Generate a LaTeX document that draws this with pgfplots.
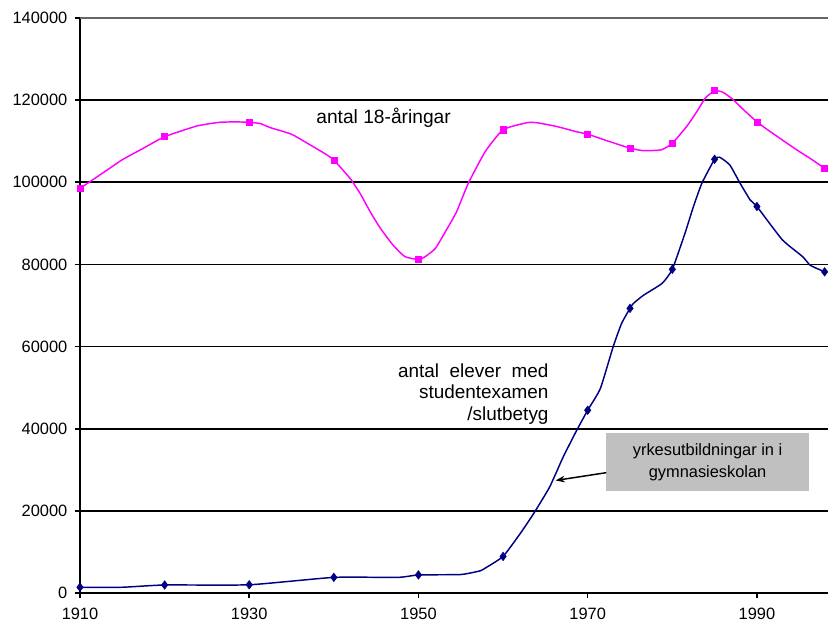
\documentclass[border=0pt]{standalone}
\usepackage{fontspec}
\setmainfont{Liberation Sans}
\usepackage{pgfplots}
\pgfplotsset{compat=1.18}
\usetikzlibrary{arrows.meta}
\definecolor{mag}{RGB}{255,0,255}
\definecolor{nav}{RGB}{0,0,128}
\definecolor{boxgray}{RGB}{192,192,192}
\begin{document}
\begin{tikzpicture}
\begin{axis}[
  scale only axis,
  width=561pt, height=431.25pt,
  xmin=1910, xmax=1998.4, ymin=0, ymax=140000,
  axis x line=bottom, axis y line=left,
  axis line style={line width=1.6pt,-},
  xtick={1910,1930,1950,1970,1990},
  ytick={0,20000,40000,60000,80000,100000,120000},
  extra y ticks={140000},
  extra y tick style={grid style={gray!80!black,line width=1.3pt}},
  ymajorgrids,
  grid style={black,line width=1.3pt},
  tick align=outside,
  major tick length=4pt,
  tick style={black,line width=1.2pt},
  scaled y ticks=false,
  /pgf/number format/.cd, fixed, 1000 sep={}, assume math mode=true,
  /pgfplots/.cd,
  tick label style={font=\fontsize{12.3}{14}\selectfont},
  yticklabel style={xshift=-2pt},
  xticklabel style={yshift=-4pt},
  clip=false,
]
% antal 18-aringar
\addplot[mag, line width=1.1pt, line join=round, smooth, tension=0.3] coordinates {
(1910,98500) (1913.5,103400) (1915,105500) (1917.5,108300) (1920,111100)
(1923.8,113700) (1926.5,114600) (1928.5,114700) (1930,114600) (1931.3,114300)
(1932.5,113300) (1935,111700) (1937.2,109100) (1939,106900) (1940,105400)
(1941.9,101000) (1943.1,97300) (1944.3,92800) (1945.5,88800) (1947,84700)
(1948.4,81900) (1950,81200) (1950.8,81900) (1952,83900) (1953.3,88400)
(1954.5,92800) (1955.9,99800) (1957.9,107500) (1960,112800) (1962.8,114500)
(1964,114500) (1966.3,113600) (1968.7,112300) (1970,111700) (1972.6,109900)
(1975,108300) (1976.6,107700) (1978.7,107900) (1980,109500) (1981.7,113600)
(1982.9,117200) (1983.9,120500) (1985,122300) (1986,121900) (1987.2,120100)
(1988.4,117700) (1990,114700) (1991.6,112300) (1994.7,107900) (1996.3,105800)
(1998,103400)
};
\addplot[only marks, mark=square*, mark size=2.3pt, mag] coordinates {
(1910,98500) (1920,111100) (1930,114600) (1940,105400) (1950,81200)
(1960,112800) (1970,111700) (1975,108300) (1980,109500) (1985,122300)
(1990,114700) (1998,103400)
};
% studentexamen
\addplot[nav, line width=1.1pt, line join=round, smooth, tension=0.3] coordinates {
(1910,1400) (1915,1400) (1920,1950) (1930,2000) (1940,3800) (1947.6,3800)
(1950,4400) (1955,4500) (1957.3,5400) (1958,6200) (1960,8900) (1962,14400)
(1963.6,19300) (1965.5,25800) (1967.1,33100) (1968.7,39600) (1970,44500)
(1971.5,49800) (1973,59900) (1974,65600) (1975,69300) (1975.4,70500)
(1976.6,72500) (1978.8,75400) (1980,78800) (1981.5,87600) (1982.5,94100)
(1983.5,99800) (1985,105600) (1985.6,106100) (1986.8,104200) (1988,99800)
(1989.2,95700) (1990,94100) (1993,86000) (1995.4,81900) (1996.3,79800)
(1998,78200)
};
\addplot[only marks, mark=diamond*, mark size=3.2pt, nav] coordinates {
(1910,1400) (1920,1950) (1930,2000) (1940,3800) (1950,4400) (1960,8900)
(1970,44500) (1975,69300) (1980,78800) (1985,105600) (1990,94100) (1998,78200)
};
% annotations
\node[anchor=base west, inner sep=0pt, font=\fontsize{14.4}{16.1}\selectfont]
  at (axis cs:1937.9,114400) {antal 18-åringar};
\node[anchor=north east, inner sep=0pt, align=right, font=\fontsize{14.2}{16.1}\selectfont]
  at (axis cs:1965.4,55900) {antal\ \ elever\ \ med\\studentexamen\\/slutbetyg};
\fill[boxgray] (axis cs:1972.2,39000) rectangle (axis cs:1996.2,24800);
\node[align=center, inner sep=0pt, font=\fontsize{12.3}{16.5}\selectfont]
  at (axis cs:1984.17,31900) {yrkesutbildningar in i\\gymnasieskolan};
\draw[line width=1.1pt, -{Stealth[length=7pt,width=5pt]}] (axis cs:1972.2,29300) -- (axis cs:1966.2,27400);
\end{axis}
\pgfresetboundingbox
\path[use as bounding box] ([xshift=-60pt,yshift=-26.25pt]current axis.south west) rectangle ([yshift=13.5pt]current axis.north east);
\end{tikzpicture}
\end{document}
